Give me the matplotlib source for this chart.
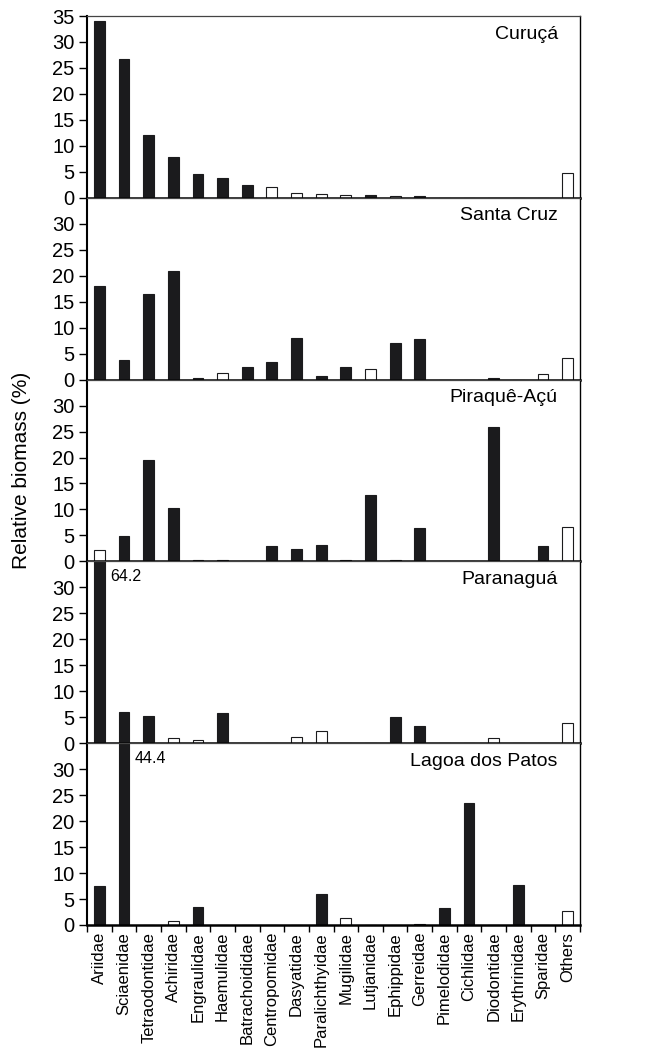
import matplotlib
matplotlib.use("Agg")
import matplotlib.pyplot as plt
import numpy as np

plt.rcParams['font.family'] = ['Liberation Sans', 'DejaVu Sans']

categories = ["Ariidae", "Sciaenidae", "Tetraodontidae", "Achiridae", "Engraulidae",
              "Haemulidae", "Batrachoididae", "Centropomidae", "Dasyatidae",
              "Paralichthyidae", "Mugilidae", "Lutjanidae", "Ephippidae", "Gerreidae",
              "Pimelodidae", "Cichlidae", "Diodontidae", "Erythrinidae", "Sparidae", "Others"]

sites = ["Curuçá", "Santa Cruz", "Piraquê-Açú", "Paranaguá", "Lagoa dos Patos"]

curuca = [34.0, 26.7, 12.0, 7.8, 4.5, 3.8, 2.4, 2.0, 0.9, 0.7, 0.5, 0.6, 0.4, 0.3,
          0, 0, 0, 0, 0, 4.7]
curuca_open = [0, 0, 0, 0, 0, 0, 0, 1, 1, 1, 1, 0, 1, 0, 0, 0, 0, 0, 0, 1]

santa_cruz = [18.0, 3.7, 16.5, 21.0, 0.4, 1.3, 2.5, 3.4, 8.0, 0.6, 2.4, 2.0, 7.0, 7.9,
              0, 0, 0.4, 0, 1.1, 4.2]
santa_cruz_open = [0, 0, 0, 0, 0, 1, 0, 0, 0, 0, 0, 1, 0, 0, 0, 0, 0, 0, 1, 1]

piraque = [2.2, 4.8, 19.6, 10.3, 0.3, 0.2, 0, 2.9, 2.4, 3.1, 0.25, 12.7, 0.3, 6.5,
           0, 0, 25.8, 0, 2.9, 6.6]
piraque_open = [1, 0, 0, 0, 0, 0, 0, 0, 0, 0, 0, 0, 0, 0, 0, 0, 0, 0, 0, 1]

paranagua = [64.2, 6.0, 5.2, 1.0, 0.6, 5.9, 0, 0, 1.2, 2.4, 0, 0, 5.1, 3.4,
             0, 0, 1.0, 0, 0, 3.9]
paranagua_open = [0, 0, 0, 1, 1, 0, 0, 0, 1, 1, 0, 0, 0, 0, 0, 0, 1, 0, 0, 1]

lagoa = [7.5, 44.4, 0, 0.7, 3.4, 0, 0, 0, 0, 5.9, 1.3, 0, 0, 0.1,
         3.3, 23.5, 0, 7.7, 0, 2.6]
lagoa_open = [0, 0, 0, 1, 0, 0, 0, 0, 0, 0, 1, 0, 0, 1, 0, 0, 0, 0, 0, 1]

values = [curuca, santa_cruz, piraque, paranagua, lagoa]
open_flags = [curuca_open, santa_cruz_open, piraque_open, paranagua_open, lagoa_open]

# clipped bar annotations: (panel index, category index, text)
overflow = [(3, 0, "64.2"), (4, 1, "44.4")]

fig = plt.figure(figsize=(6.49, 10.52), dpi=100)
left, right = 87 / 649, 580 / 649
top, bottom = 1 - 16 / 1052, 1 - 925 / 1052
n = len(sites)
h = (top - bottom) / n
x = np.arange(len(categories))
axes = []
for i in range(n):
    ax = fig.add_axes([left, top - (i + 1) * h, right - left, h])
    axes.append(ax)
    vals = values[i]
    colors = ['white' if o else '#1b1b1d' for o in open_flags[i]]
    ax.bar(x, vals, width=0.44, color=colors, edgecolor='#1b1b1d', linewidth=0.8,
           zorder=2)
    ax.set_xlim(-0.5, len(categories) - 0.5)
    ax.set_ylim(0, 35)
    if i == 0:
        ax.set_yticks(np.arange(0, 36, 5))
    else:
        ax.set_yticks(np.arange(0, 31, 5))
    ax.tick_params(axis='y', direction='out', length=6, width=1, labelsize=14.5, pad=3)
    ax.text(0.955, 0.90, sites[i], transform=ax.transAxes, ha='right', va='center',
            fontsize=14)
    ax.spines['top'].set_linewidth(0.9)
    ax.spines['top'].set_color('#444444')
    ax.spines['right'].set_linewidth(1.0)
    ax.spines['left'].set_linewidth(1.5)
    ax.spines['bottom'].set_linewidth(1.8)
    if i < n - 1:
        ax.set_xticks([])
    else:
        ax.set_xticks(x)
        ax.set_xticklabels(categories, rotation=90, fontsize=12)
        ax.tick_params(axis='x', which='major', length=0, pad=5)
        ax.set_xticks(np.arange(-0.5, len(categories), 1.0), minor=True)
        ax.tick_params(axis='x', which='minor', direction='out', length=5, width=1)

for (pi, ci, txt) in overflow:
    axes[pi].text(ci + 0.43, 32.1, txt, ha='left', va='center', fontsize=11.5)

fig.text(22 / 649, 1 - 470 / 1052, "Relative biomass (%)", rotation=90,
         ha='center', va='center', fontsize=15)

fig.savefig("out.png", dpi=100)
